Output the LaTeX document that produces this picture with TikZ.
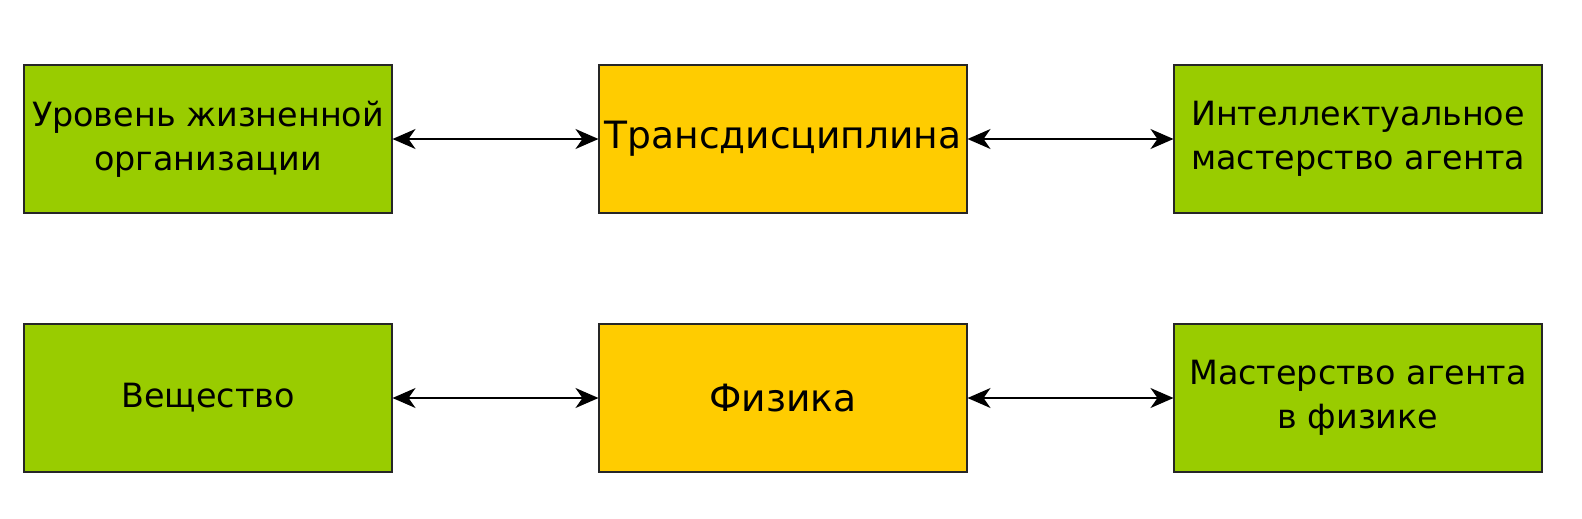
\documentclass[tikz,border=0pt]{standalone}
\usepackage{fontspec}
\setmainfont{DejaVu Sans}
\usetikzlibrary{arrows.meta}
\definecolor{boxgreen}{HTML}{99CC00}
\definecolor{boxorange}{HTML}{FFCC00}

\begin{document}
\begin{tikzpicture}[every node/.style={draw=black!85,semithick,rectangle,inner sep=0pt,minimum width=7.36cm,minimum height=2.96cm,align=center,font=\fontsize{19}{25}\selectfont},
  green box/.style={fill=boxgreen},
  orange box/.style={fill=boxorange,font=\fontsize{21.4}{26}\selectfont},
  biarrow/.style={{Stealth[length=0.46cm,width=0.4cm,inset=0.14cm]}-{Stealth[length=0.46cm,width=0.4cm,inset=0.14cm]},thick}]
                \useasboundingbox (0,0) rectangle (31.64,-10.36);
                \node[green box] (level) at (4.16,-2.78) {Уровень жизненной\\организации};
                \node[orange box] (trans) at (15.66,-2.78) {Трансдисциплина};
                \node[green box] (mastery) at (27.16,-2.78) {Интеллектуальное\\мастерство агента};
                \node[green box] (matter) at (4.16,-7.96) {Вещество};
                \node[orange box] (physics) at (15.66,-7.96) {Физика};
                \node[green box] (physmastery) at (27.16,-7.96) {Мастерство агента\\в физике};

                \path [biarrow] (level) edge (trans);
                \path [biarrow] (trans) edge (mastery);
                \path [biarrow] (matter) edge (physics);
                \path [biarrow] (physics) edge (physmastery);
            \end{tikzpicture}
\end{document}
